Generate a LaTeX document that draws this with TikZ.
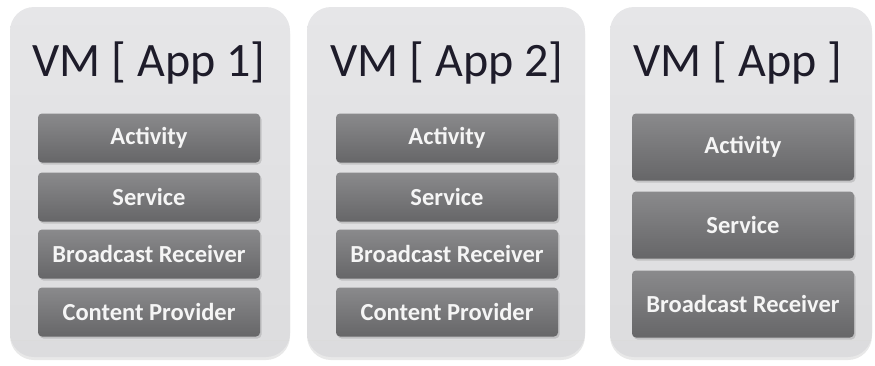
\documentclass[tikz,border=0pt]{standalone}
\usepackage{fontspec}
\setmainfont{Carlito}
\usetikzlibrary{
    positioning,  % For relative placement of nodes
    shadows       % For the soft shadows under panels and boxes
}

\definecolor{panelgray}{RGB}{220,220,222}
\definecolor{paneltop}{RGB}{230,230,232}
\definecolor{boxtop}{RGB}{138,138,140}
\definecolor{boxbottom}{RGB}{102,102,104}
\definecolor{titleink}{RGB}{30,28,42}
\definecolor{boxink}{RGB}{245,245,245}

\begin{document}
\begin{tikzpicture}[
    x=1pt, y=-1pt, % Pixel-like units, y growing downwards
    vm_panel/.style={rounded corners=24pt, top color=paneltop, bottom color=panelgray,
        inner sep=0pt, drop shadow={shadow xshift=0pt, shadow yshift=-3pt, opacity=0.18}},
    vm_title/.style={font=\fontsize{48}{52}\selectfont, text=titleink, inner sep=0pt},
    part_box/.style={rounded corners=4pt, top color=boxtop, bottom color=boxbottom,
        text=boxink, font=\bfseries\fontsize{24.5}{28}\selectfont, inner sep=0pt,
        minimum width=222pt, drop shadow={shadow xshift=1.5pt, shadow yshift=-2pt, opacity=0.3}},
    rim_line/.style={draw=black!14, line width=0.8pt}
]
    % Fix the page to the reference size
    \useasboundingbox (0,0) rectangle (875,365);

    % The three virtual machines
    \node[vm_panel, minimum width=280pt, minimum height=350pt] (vm1) at (150,182) {};
    \node[vm_panel, minimum width=278pt, minimum height=350pt] (vm2) at (446,182) {};
    \node[vm_panel, minimum width=262pt, minimum height=350pt] (vm3) at (741,182) {};

    % Rim near the bottom of each panel
    \draw[rim_line] (11,340) -- (289,340);
    \draw[rim_line] (308,340) -- (584,340);
    \draw[rim_line] (611,340) -- (871,340);

    % Titles
    \node[vm_title, anchor=base] (title1) at (149,76) {VM [ App 1]};
    \node[vm_title, anchor=base] (title2) at (447,76) {VM [ App 2]};
    \node[vm_title, anchor=base] (title3) at (738,76) {VM [ App ]};

    % Components of App 1
    \node[part_box, minimum height=49pt] (act1) at (149,138) {Activity};
    \node[part_box, minimum height=49pt] (ser1) at (149,197) {Service};
    \node[part_box, minimum height=49pt] (bro1) at (149,254) {Broadcast Receiver};
    \node[part_box, minimum height=49pt] (con1) at (149,312) {Content Provider};

    % Components of App 2
    \node[part_box, minimum height=49pt] (act2) at (447,138) {Activity};
    \node[part_box, minimum height=49pt] (ser2) at (447,197) {Service};
    \node[part_box, minimum height=49pt] (bro2) at (447,254) {Broadcast Receiver};
    \node[part_box, minimum height=49pt] (con2) at (447,312) {Content Provider};

    % Components of the third app
    \node[part_box, minimum height=67pt] (act3) at (743,147) {Activity};
    \node[part_box, minimum height=67pt] (ser3) at (743,225) {Service};
    \node[part_box, minimum height=67pt] (bro3) at (743,304) {Broadcast Receiver};

\end{tikzpicture}
\end{document}
